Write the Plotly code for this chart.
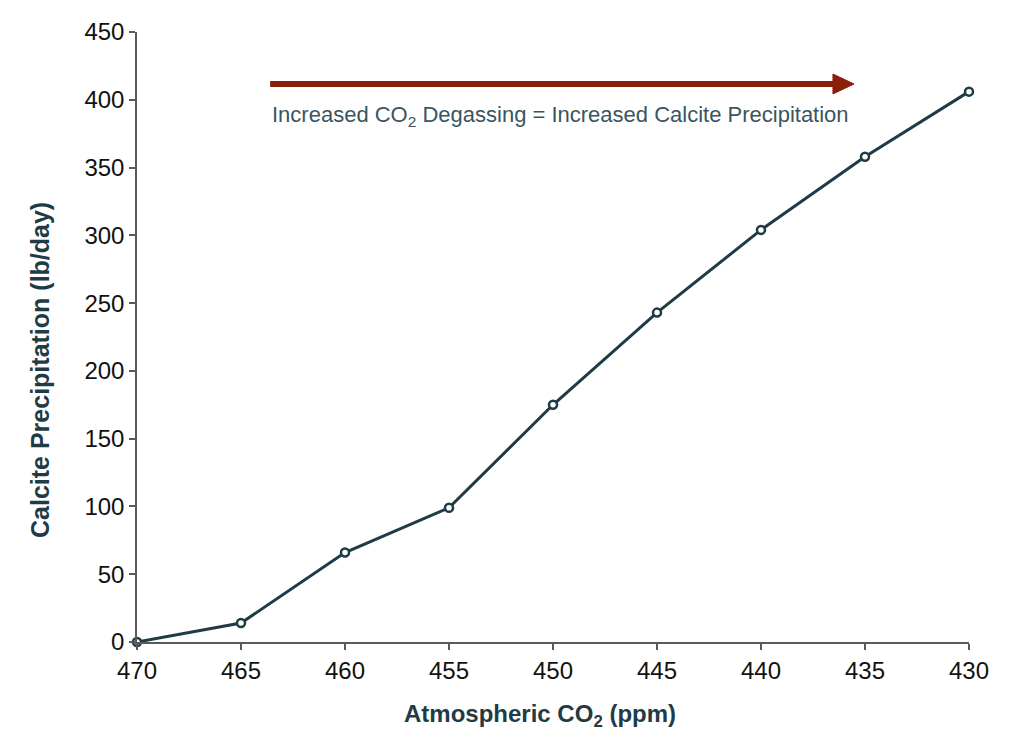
import plotly.graph_objects as go

co2_ppm = [470, 465, 460, 455, 450, 445, 440, 435, 430]
calcite_lb_day = [0, 14, 66, 99, 175, 243, 304, 358, 406]
x_ticks = [470, 465, 460, 455, 450, 445, 440, 435, 430]
y_ticks = [0, 50, 100, 150, 200, 250, 300, 350, 400, 450]

LINE = "#1f3b46"
ARROW = "#8b1e0a"
AXIS = "#5a5a5a"
FONT = "Liberation Sans, Arial, sans-serif"

fig = go.Figure()
fig.add_trace(go.Scatter(
    x=co2_ppm, y=calcite_lb_day, mode="lines+markers",
    line=dict(color=LINE, width=3),
    marker=dict(symbol="circle", size=8, color="white", line=dict(color=LINE, width=2.5)),
    cliponaxis=False, showlegend=False,
))

fig.update_layout(
    width=1024, height=745,
    margin=dict(l=137, r=55, t=32, b=103),
    paper_bgcolor="white", plot_bgcolor="white",
    font=dict(family=FONT, color="#111111", size=20),
    xaxis=dict(
        range=[470, 430], tickvals=x_ticks, ticks="outside", ticklen=6, tickwidth=1.5,
        tickcolor=AXIS, showline=True, linecolor=AXIS, linewidth=1.5, showgrid=False,
        zeroline=False, tickfont=dict(size=24, color="#111111"),
    ),
    yaxis=dict(
        range=[0, 450], tickvals=y_ticks, ticks="outside", ticklen=6, tickwidth=1.5,
        tickcolor=AXIS, showline=True, linecolor=AXIS, linewidth=1.5, showgrid=False,
        zeroline=False, tickfont=dict(size=24, color="#111111"),
    ),
    shapes=[
        dict(type="line", xref="paper", yref="paper", x0=0.160, x1=0.840, y0=0.9148, y1=0.9148,
             line=dict(color=ARROW, width=6)),
        dict(type="path", xref="paper", yref="paper",
             path="M 0.8365 0.9311 L 0.8618 0.9148 L 0.8365 0.8984 Z",
             fillcolor=ARROW, line=dict(color=ARROW, width=1)),
    ],
    annotations=[
        dict(text="Increased CO<sub>2</sub> Degassing = Increased Calcite Precipitation",
             xref="paper", yref="paper", x=0.160, y=0.862, xanchor="left", yanchor="middle",
             showarrow=False, font=dict(size=22, color="#3a5561", family=FONT)),
        dict(text="Atmospheric CO<sub>2</sub> (ppm)",
             xref="paper", yref="paper", x=0.4844, y=-0.1197, xanchor="center", yanchor="middle",
             showarrow=False, font=dict(size=24, color=LINE, family=FONT, weight="bold")),
        dict(text="Calcite Precipitation (lb/day)", textangle=-90,
             xref="paper", yref="paper", x=-0.1166, y=0.4459, xanchor="center", yanchor="middle",
             showarrow=False, font=dict(size=25, color=LINE, family=FONT, weight="bold")),
    ],
)

fig.write_html("out.html")
